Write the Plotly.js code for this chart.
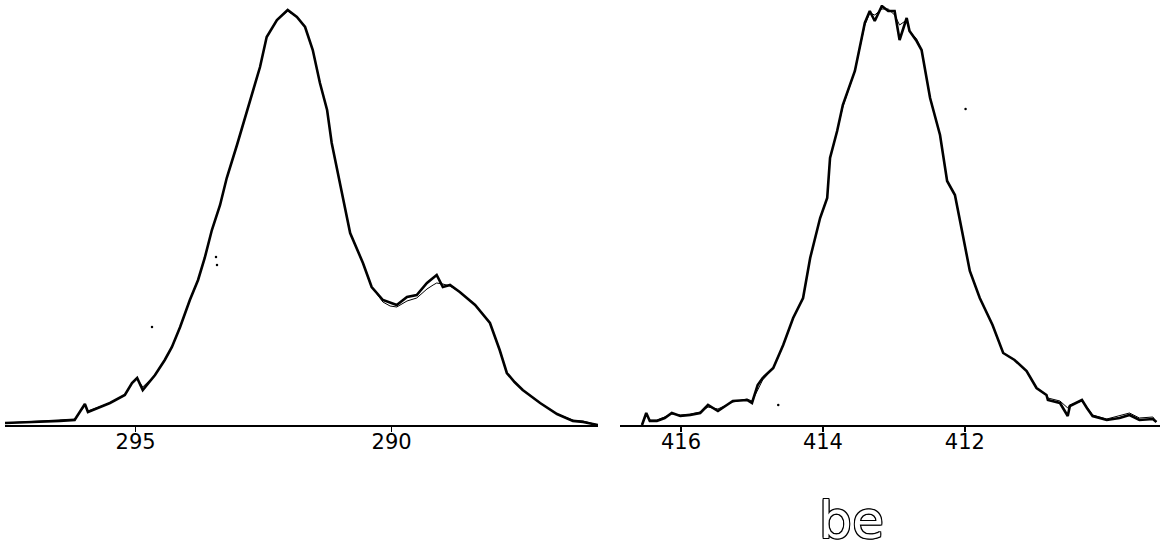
<!DOCTYPE html>
<html>
<head>
<meta charset="utf-8">
<script src="https://cdn.plot.ly/plotly-3.0.1.min.js"></script>
<style>html,body{margin:0;padding:0;background:#fff;}#chart{width:1167px;height:550px;}</style>
</head>
<body>
<div id="chart"></div>
<script>
// C 1s region (binding energy, eV) — left panel
const leftEnergy = [297.55,296.87,296.48,296.19,296.09,295.99,295.93,295.70,295.50,295.21,295.07,294.97,294.86,294.62,294.43,294.29,294.13,293.94,293.78,293.65,293.51,293.35,293.22,293.02,292.83,292.57,292.44,292.24,292.03,291.85,291.69,291.54,291.40,291.26,291.17,290.95,290.81,290.56,290.39,290.17,290.03,289.90,289.70,289.51,289.31,289.19,289.12,289.00,288.86,288.67,288.37,288.08,287.89,287.75,287.60,287.44,287.10,286.77,286.46,286.26,285.97];
const leftCountsA = [2,3,4,5,13,21,13,18,22,30,42,47,35,50,65,78,98,125,145,167,195,220,247,280,312,358,388,405,415,408,398,375,342,315,282,225,192,162,138,125,122,120,128,130,142,147,150,138,140,133,120,102,75,52,43,35,22,11,4,3,0];
const leftCountsB = [2,4,5,6,13,19,14,18,22,30,42,46,38,50,65,78,98,125,145,167,195,220,247,280,312,358,388,405,414,408,398,375,342,315,282,225,192,162,138,123,119,118,124,127,136,140,142,141,139,133,120,102,75,52,43,35,22,11,5,4,0];

// N 1s region (binding energy, eV) — right panel
const rightEnergy = [416.55,416.49,416.44,416.34,416.23,416.13,416.01,415.87,415.73,415.62,415.48,415.27,415.07,415.00,414.92,414.85,414.70,414.56,414.42,414.28,414.18,414.04,413.94,413.90,413.80,413.72,413.55,413.41,413.34,413.27,413.17,413.08,412.99,412.92,412.82,412.78,412.68,412.61,412.49,412.35,412.25,412.14,412.04,411.93,411.79,411.61,411.46,411.30,411.13,410.99,410.85,410.83,410.66,410.55,410.52,410.35,410.28,410.20,410.00,409.82,409.68,409.54,409.35,409.30];
const rightCountsA = [0,12,4,4,7,12,9,10,12,20,14,24,25,22,40,47,57,80,107,127,167,207,227,267,294,320,354,402,414,404,419,414,414,385,407,394,384,375,327,290,244,230,194,154,127,100,72,65,54,37,30,25,22,9,19,25,17,9,5,7,10,5,6,3];
const rightCountsB = [0,10,5,5,8,11,10,11,13,18,16,23,26,24,35,45,57,80,107,127,167,207,227,267,294,318,354,400,412,410,416,416,410,400,405,394,386,375,327,290,244,230,194,154,127,100,72,65,54,37,30,27,24,17,20,24,18,10,6,9,12,7,8,3];

// tick labels
const leftTicks = [295, 290];
const rightTicks = [416, 414, 412];
const axisLabel = 'be';

// scan specks
const leftSpeckE = [294.68, 293.43, 293.41];
const leftSpeckI = [98, 168, 160];
const rightSpeckE = [414.63, 411.99];
const rightSpeckI = [20, 316];

const thick = {color:'#000', width:2.6};
const thin = {color:'#000', width:1};

const data = [
  {x:leftEnergy, y:leftCountsB, type:'scatter', mode:'lines', line:thin, xaxis:'x', yaxis:'y', hoverinfo:'skip'},
  {x:leftEnergy, y:leftCountsA, type:'scatter', mode:'lines', line:thick, xaxis:'x', yaxis:'y'},
  {x:rightEnergy, y:rightCountsB, type:'scatter', mode:'lines', line:thin, xaxis:'x2', yaxis:'y', hoverinfo:'skip'},
  {x:rightEnergy, y:rightCountsA, type:'scatter', mode:'lines', line:thick, xaxis:'x2', yaxis:'y'},
  {x:leftSpeckE, y:leftSpeckI, type:'scatter', mode:'markers', marker:{color:'#000', size:2.5}, xaxis:'x', yaxis:'y'},
  {x:rightSpeckE, y:rightSpeckI, type:'scatter', mode:'markers', marker:{color:'#000', size:2.5}, xaxis:'x2', yaxis:'y'}
];

const tickFont = {family:'DejaVu Sans', size:21, color:'#000'};

const layout = {
  width:1167, height:550,
  margin:{l:0, r:0, t:5, b:125},
  paper_bgcolor:'#fff', plot_bgcolor:'#fff',
  showlegend:false,
  xaxis:{domain:[5/1167, 598/1167], range:[297.55, 285.97], anchor:'y',
    showgrid:false, zeroline:false, showline:true, linecolor:'#000', linewidth:2,
    ticks:'outside', ticklen:5, tickwidth:1.5, tickcolor:'#000', ticklabelstandoff:-8,
    tickvals:leftTicks, ticktext:leftTicks.map(String), tickfont:tickFont},
  xaxis2:{domain:[620/1167, 1160/1167], range:[416.86, 409.25], anchor:'y',
    showgrid:false, zeroline:false, showline:true, linecolor:'#000', linewidth:2,
    ticks:'outside', ticklen:5, tickwidth:1.5, tickcolor:'#000', ticklabelstandoff:-8,
    tickvals:rightTicks, ticktext:rightTicks.map(String), tickfont:tickFont},
  yaxis:{range:[0, 420], visible:false, fixedrange:true},
  annotations:[{
    text:axisLabel, xref:'paper', yref:'paper', x:851/1167, y:-0.225,
    xanchor:'center', yanchor:'middle', showarrow:false,
    font:{family:'DejaVu Sans', size:52, color:'#fff',
      shadow:'1px 0 0 #000, -1px 0 0 #000, 0 1px 0 #000, 0 -1px 0 #000, 1px 1px 0 #000, -1px -1px 0 #000, 1px -1px 0 #000, -1px 1px 0 #000'}
  }]
};

Plotly.newPlot('chart', data, layout, {displayModeBar:false, staticPlot:true});
</script>
</body>
</html>
